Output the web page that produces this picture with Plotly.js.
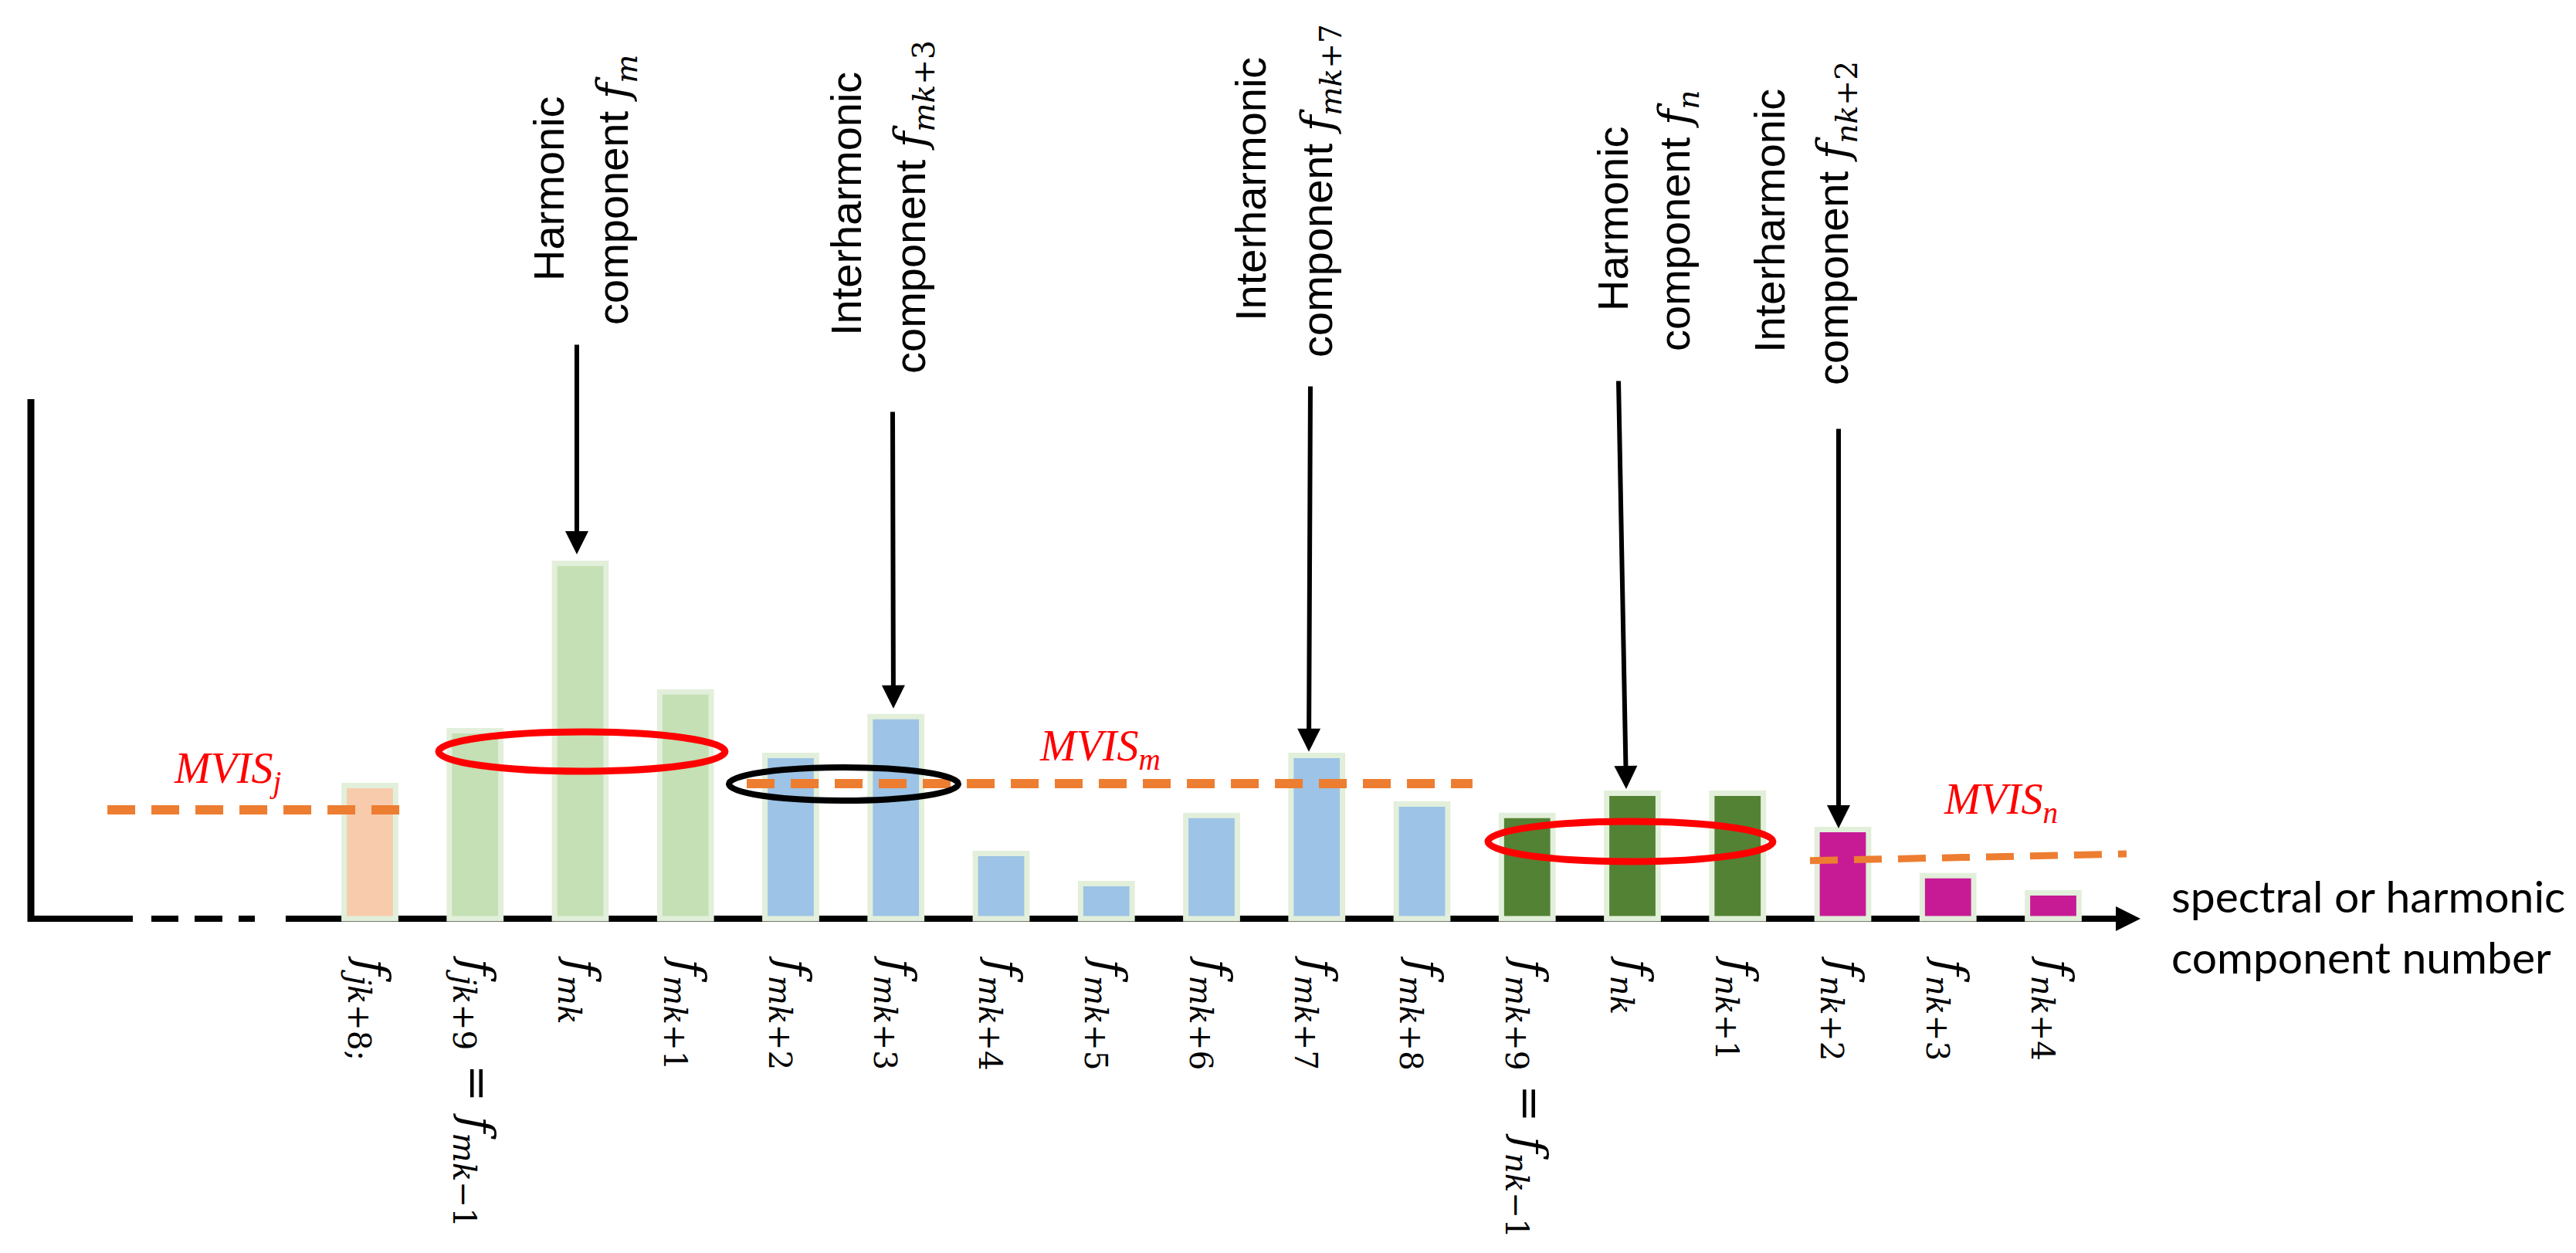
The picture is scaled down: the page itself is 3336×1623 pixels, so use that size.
<!DOCTYPE html>
<html><head><meta charset="utf-8">
<script src="https://cdn.plot.ly/plotly-3.0.1.min.js"></script>
<style>html,body{margin:0;padding:0;background:#fff;overflow:hidden}</style>
</head><body><div id="chart" style="width:3336px;height:1623px"></div>
<script>
// ---------------- data ----------------
const tickLabels = [
  '<i>f</i><sub><i>jk</i>+8;</sub>',
  '<i>f</i><sub><i>jk</i>+9</sub> = <i>f</i><sub><i>mk</i>−1</sub>',
  '<i>f</i><sub><i>mk</i></sub>',
  '<i>f</i><sub><i>mk</i>+1</sub>',
  '<i>f</i><sub><i>mk</i>+2</sub>',
  '<i>f</i><sub><i>mk</i>+3</sub>',
  '<i>f</i><sub><i>mk</i>+4</sub>',
  '<i>f</i><sub><i>mk</i>+5</sub>',
  '<i>f</i><sub><i>mk</i>+6</sub>',
  '<i>f</i><sub><i>mk</i>+7</sub>',
  '<i>f</i><sub><i>mk</i>+8</sub>',
  '<i>f</i><sub><i>mk</i>+9</sub> = <i>f</i><sub><i>nk</i>−1</sub>',
  '<i>f</i><sub><i>nk</i></sub>',
  '<i>f</i><sub><i>nk</i>+1</sub>',
  '<i>f</i><sub><i>nk</i>+2</sub>',
  '<i>f</i><sub><i>nk</i>+3</sub>',
  '<i>f</i><sub><i>nk</i>+4</sub>'
];
const componentValues = [3.72, 5.25, 9.92, 6.33, 4.56, 5.64, 1.82, 0.98, 2.88, 4.56, 3.20, 2.88, 3.50, 3.50, 2.49, 1.20, 0.72];
const componentGroup = ['j', 'm', 'm', 'm', 'mi', 'mi', 'mi', 'mi', 'mi', 'mi', 'mi', 'n', 'n', 'n', 'ni', 'ni', 'ni'];
const groupColors = {j: '#F8CBAD', m: '#C5E0B4', mi: '#9DC3E6', n: '#548235', ni: '#C71B96'};

const mvisLabels = ['MVIS<sub>j</sub>', 'MVIS<sub>m</sub>', 'MVIS<sub>n</sub>'];
const mvisFrom = [-2.495, 3.582, 13.688];
const mvisTo = [0.294, 10.48, 16.697];
const mvisStartLevel = [3.04, 3.77, 1.62];
const mvisEndLevel = [3.04, 3.77, 1.81];
const mvisWidth = [12, 12, 9];

// callouts: target bar index, first line, second line
const calloutBar = [2, 5, 9, 12, 14];
const calloutLine1 = ['Harmonic', 'Interharmonic', 'Interharmonic', 'Harmonic', 'Interharmonic'];
const calloutSym = ['<i>f</i><sub><i>m</i></sub>', '<i>f</i><sub><i>mk</i>+3</sub>', '<i>f</i><sub><i>mk</i>+7</sub>', '<i>f</i><sub><i>n</i></sub>', '<i>f</i><sub><i>nk</i>+2</sub>'];

// ---------------- geometry helpers (layout only) ----------------
const W = 3336, H = 1623;
const PXU = 136.25, X0 = -479 / PXU;         // x: index -> px
const PYU = 46.4, BASE = 1190;               // y: value -> px
const xd = px => px / PXU + X0;
const yd = py => (BASE - py) / PYU;
const xp = px => px / W;
const yp = py => 1 - py / H;
const plotBottom = 1205;

const idx = componentValues.map((_, i) => i);

const traces = [{
  type: 'bar',
  x: idx,
  y: componentValues,
  width: 0.49,
  marker: {color: componentGroup.map(g => groupColors[g]), line: {color: '#E2EFDA', width: 7}},
  hoverinfo: 'skip',
  showlegend: false
}];
for (let k = 0; k < mvisLabels.length; k++) {
  traces.push({
    type: 'scatter', mode: 'lines',
    x: [mvisFrom[k], mvisTo[k]],
    y: [mvisStartLevel[k], mvisEndLevel[k]],
    line: {color: '#ED7D31', width: mvisWidth[k], dash: '36px,21px'},
    hoverinfo: 'skip', showlegend: false
  });
}

const shapes = [
  // main horizontal axis
  {type: 'line', xref: 'x', yref: 'y', x0: xd(370), x1: xd(2745), y0: 0, y1: 0, line: {color: '#000', width: 8}, layer: 'below'},
  // left fragment of axis
  {type: 'line', xref: 'x', yref: 'y', x0: xd(36), x1: xd(172), y0: 0, y1: 0, line: {color: '#000', width: 8}, layer: 'below'},
  {type: 'line', xref: 'x', yref: 'y', x0: xd(196), x1: xd(231), y0: 0, y1: 0, line: {color: '#000', width: 8}, layer: 'below'},
  {type: 'line', xref: 'x', yref: 'y', x0: xd(252), x1: xd(288), y0: 0, y1: 0, line: {color: '#000', width: 8}, layer: 'below'},
  {type: 'line', xref: 'x', yref: 'y', x0: xd(309), x1: xd(330), y0: 0, y1: 0, line: {color: '#000', width: 8}, layer: 'below'},
  // vertical axis
  {type: 'line', xref: 'x', yref: 'y', x0: xd(40), x1: xd(40), y0: yd(1194), y1: yd(517), line: {color: '#000', width: 9}, layer: 'below'},
  // ellipses
  {type: 'circle', xref: 'x', yref: 'y', x0: xd(568), x1: xd(939), y0: yd(948), y1: yd(999), line: {color: '#FF0000', width: 9}},
  {type: 'circle', xref: 'x', yref: 'y', x0: xd(944), x1: xd(1241), y0: yd(994), y1: yd(1037), line: {color: '#000', width: 8}},
  {type: 'circle', xref: 'x', yref: 'y', x0: xd(1927), x1: xd(2296), y0: yd(1064), y1: yd(1116), line: {color: '#FF0000', width: 9}}
];

const annotations = [];
// category labels below the axis, rotated clockwise
for (let i = 0; i < tickLabels.length; i++) {
  annotations.push({
    xref: 'x', yref: 'paper', x: idx[i], y: yp(1236),
    xanchor: 'center', yanchor: 'top', textangle: 90, showarrow: false,
    text: tickLabels[i], font: {family: 'DejaVu Serif', size: 58, color: '#000'}
  });
}
// callout texts (two rotated lines each)
const line1Pos = [[710, 244], [1095, 264], [1620, 245], [2088, 283], [2292, 286]];
const line2Pos = [[797, 246], [1182, 268], [1710, 247], [2173, 286], [2378, 289]];
const arrowTail = [[747, 445], [1156, 532], [1697, 499], [2096, 492], [2381, 554]];
const arrowTipX = [747, 1157, 1695, 2106, 2381];
const arrowGap = [0.25, 0.23, 0.1, 0.12, 0.03];
for (let k = 0; k < calloutBar.length; k++) {
  annotations.push({
    xref: 'paper', yref: 'paper', x: xp(line1Pos[k][0]), y: yp(line1Pos[k][1]),
    xanchor: 'center', yanchor: 'middle', textangle: -90, showarrow: false,
    text: calloutLine1[k], font: {family: 'Liberation Sans, Arial', size: 56, color: '#000'}
  });
  annotations.push({
    xref: 'paper', yref: 'paper', x: xp(line2Pos[k][0]), y: yp(line2Pos[k][1]),
    xanchor: 'center', yanchor: 'middle', textangle: -90, showarrow: false,
    text: 'component <span style="font-family:DejaVu Serif">' + calloutSym[k] + '</span>',
    font: {family: 'Liberation Sans, Arial', size: 56, color: '#000'}
  });
  annotations.push({
    xref: 'x', yref: 'y', axref: 'x', ayref: 'y',
    x: xd(arrowTipX[k]), y: componentValues[calloutBar[k]] + arrowGap[k],
    ax: xd(arrowTail[k][0]), ay: yd(arrowTail[k][1]),
    text: '', showarrow: true, arrowhead: 2, arrowsize: 1, arrowwidth: 6, arrowcolor: '#000', standoff: 0
  });
}
// MVIS labels
const mvisLabelPos = [[223, 1000], [1344, 970], [2515, 1039]];
for (let k = 0; k < mvisLabels.length; k++) {
  annotations.push({
    xref: 'paper', yref: 'paper', x: xp(mvisLabelPos[k][0]), y: yp(mvisLabelPos[k][1]),
    xanchor: 'left', yanchor: 'middle', showarrow: false, text: mvisLabels[k],
    font: {family: 'Liberation Serif', size: 56, color: '#FF0000', style: 'italic'}
  });
}
// axis arrow head
annotations.push({
  xref: 'x', yref: 'y', axref: 'x', ayref: 'y', x: xd(2772), y: 0, ax: xd(2700), ay: 0,
  text: '', showarrow: true, arrowhead: 2, arrowsize: 0.8, arrowwidth: 8, arrowcolor: '#000', standoff: 0
});
// axis caption
annotations.push({
  xref: 'paper', yref: 'paper', x: xp(2810), y: yp(1160), xanchor: 'left', yanchor: 'middle', showarrow: false,
  text: 'spectral or harmonic', font: {family: 'Lato', size: 57, color: '#000'}
});
annotations.push({
  xref: 'paper', yref: 'paper', x: xp(2810), y: yp(1239), xanchor: 'left', yanchor: 'middle', showarrow: false,
  text: 'component number', font: {family: 'Lato', size: 57, color: '#000'}
});

const layout = {
  width: W, height: H,
  margin: {l: 0, r: 0, t: 0, b: 0, pad: 0},
  paper_bgcolor: '#fff', plot_bgcolor: 'rgba(0,0,0,0)',
  showlegend: false,
  xaxis: {
    range: [X0, X0 + W / PXU], showgrid: false, zeroline: false, showline: false,
    tickmode: 'array', tickvals: idx, showticklabels: false, ticks: '',
    automargin: false, fixedrange: true
  },
  yaxis: {
    domain: [(H - plotBottom) / H, 1], range: [yd(plotBottom), yd(0)],
    visible: false, showgrid: false, zeroline: false, fixedrange: true
  },
  bargap: 0,
  shapes: shapes,
  annotations: annotations
};

Plotly.newPlot('chart', traces, layout, {displayModeBar: false, staticPlot: true});
</script></body></html>
